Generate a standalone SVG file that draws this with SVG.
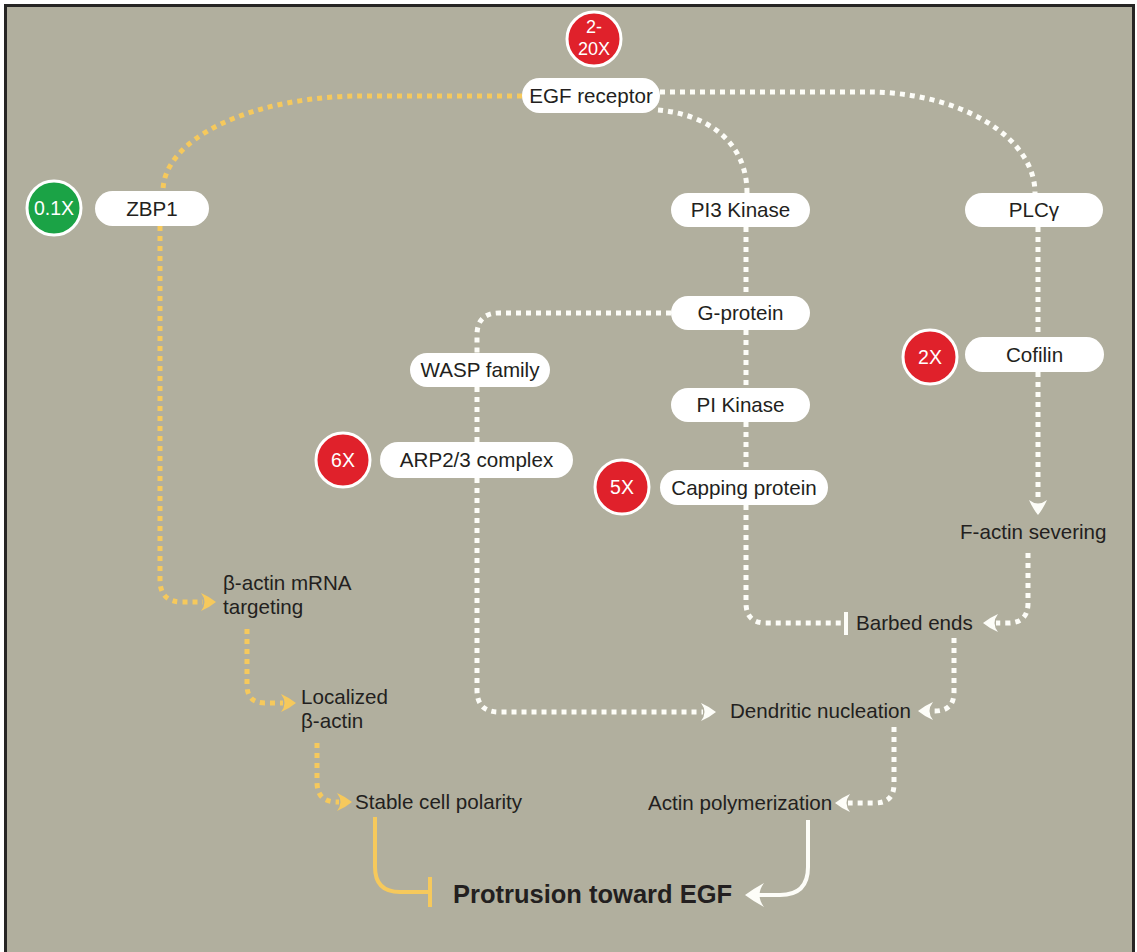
<svg xmlns="http://www.w3.org/2000/svg" xmlns:xlink="http://www.w3.org/1999/xlink" width="1137" height="952" viewBox="0 0 1137 952">
<defs>
<style>
.bg{fill:#b1af9e;stroke:#262524;stroke-width:3}
.pill{fill:#ffffff}
.t{font-family:"Liberation Sans",Arial,sans-serif;font-size:20.6px;fill:#231f20}
.tm{text-anchor:middle}
.big{font-size:25.5px;font-weight:bold}
.ct{font-family:"Liberation Sans",Arial,sans-serif;font-size:19.5px;fill:#ffffff;text-anchor:middle}
.cs{font-size:18px}
.red{fill:#e0212b;stroke:#ffffff;stroke-width:3}
.green{fill:#1ba346;stroke:#ffffff;stroke-width:3}
.dot{fill:none;stroke-width:5;stroke-dasharray:5 5}
.y{stroke:#f6c95c}
.w{stroke:#fdfdf8}
.sy{fill:none;stroke:#f6c95c;stroke-width:4}
.sw{fill:none;stroke:#fdfdf8;stroke-width:4}
</style>
<path id="chev" d="M-15,-9 Q-6,-5 0,0 Q-6,5 -15,9 Q-8,0 -15,-9 Z"/>
<path id="chevL" d="M-19,-12 Q-8,-6 0,0 Q-8,6 -19,12 Q-10,0 -19,-12 Z"/>
</defs>
<rect class="bg" x="5.5" y="5.5" width="1128" height="970"/>

<g id="connectors">
<!-- yellow -->
<path class="dot y" d="M522 96 L362 96 A199 95 0 0 0 163 191"/>
<path class="dot y" d="M160 226 L160 580 Q160 602 182 602 L203 602"/>
<use xlink:href="#chev" fill="#f6c95c" transform="translate(216,602)"/>
<path class="dot y" d="M247 629 L247 685 Q247 703 265 703 L283 703"/>
<use xlink:href="#chev" fill="#f6c95c" transform="translate(296,703)"/>
<path class="dot y" d="M317 743 L317 782 Q317 802 337 802 L339 802"/>
<use xlink:href="#chev" fill="#f6c95c" transform="translate(352,802)"/>
<path class="sy" d="M375 817 L375 867 Q375 892 400 892 L430 892"/>
<path class="sy" d="M430 877 L430 907"/>
<!-- white solid -->
<path class="sw" d="M808 820 L808 867 Q808 895 780 895 L752 895"/>
<use xlink:href="#chevL" fill="#fdfdf8" transform="translate(745,895) rotate(180)"/>
<!-- white dotted -->
<path class="dot w" d="M660 92 L868 92 A167 101 0 0 1 1035 193"/>
<path class="dot w" d="M658 110 C705 114 747 140 747 193"/>
<path class="dot w" d="M746 227 L746 296 M746 330 L746 388 M746 422 L746 470"/>
<path class="dot w" d="M746 505 L746 603 Q746 623 766 623 L844 623"/>
<path class="sw" d="M846 612 L846 635"/>
<path class="dot w" d="M671 313 L499 313 Q477 313 477 335 L477 353 M477 387 L477 442 M477 478 L477 690 Q477 712 499 712 L703 712"/>
<use xlink:href="#chev" fill="#fdfdf8" transform="translate(716,712)"/>
<path class="dot w" d="M1038 227 L1038 337 M1038 372 L1038 500"/>
<use xlink:href="#chev" fill="#fdfdf8" transform="translate(1038,515) rotate(90)"/>
<path class="dot w" d="M1028 553 L1028 603 Q1028 623 1008 623 L996 623"/>
<use xlink:href="#chev" fill="#fdfdf8" transform="translate(983,623) rotate(180)"/>
<path class="dot w" d="M954 638 L954 692 Q954 711 935 711 L931 711"/>
<use xlink:href="#chev" fill="#fdfdf8" transform="translate(918,711) rotate(180)"/>
<path class="dot w" d="M894 727 L894 784 Q894 803 875 803 L848 803"/>
<use xlink:href="#chev" fill="#fdfdf8" transform="translate(835,803) rotate(180)"/>
</g>

<g id="egf-receptor">
<rect class="pill" x="522" y="78" width="138" height="35" rx="17.5"/>
<text class="t tm" x="591" y="102.5">EGF receptor</text>
</g>
<g id="badge-egf">
<circle class="red" cx="594" cy="39" r="27"/>
<text class="ct cs" x="594" y="33">2-</text>
<text class="ct cs" x="594" y="55">20X</text>
</g>
<g id="zbp1">
<rect class="pill" x="95" y="191" width="114" height="35" rx="17.5"/>
<text class="t tm" x="152" y="215.5">ZBP1</text>
</g>
<g id="badge-zbp1">
<circle class="green" cx="54" cy="208" r="27"/>
<text class="ct" x="54" y="215">0.1X</text>
</g>
<g id="pi3-kinase">
<rect class="pill" x="671" y="193" width="139" height="34" rx="17"/>
<text class="t tm" x="740.5" y="217">PI3 Kinase</text>
</g>
<g id="plc-gamma">
<rect class="pill" x="965" y="193" width="138" height="34" rx="17"/>
<text class="t tm" x="1034" y="217">PLCγ</text>
</g>
<g id="g-protein">
<rect class="pill" x="671" y="296" width="139" height="34" rx="17"/>
<text class="t tm" x="740.5" y="320">G-protein</text>
</g>
<g id="wasp-family">
<rect class="pill" x="410" y="353" width="140" height="34" rx="17"/>
<text class="t tm" x="480" y="377">WASP family</text>
</g>
<g id="arp23">
<rect class="pill" x="380" y="442" width="193" height="36" rx="18"/>
<text class="t tm" x="476.5" y="467">ARP2/3 complex</text>
</g>
<g id="badge-arp">
<circle class="red" cx="343" cy="460" r="27"/>
<text class="ct" x="343" y="467">6X</text>
</g>
<g id="pi-kinase">
<rect class="pill" x="671" y="388" width="139" height="34" rx="17"/>
<text class="t tm" x="740.5" y="412">PI Kinase</text>
</g>
<g id="capping-protein">
<rect class="pill" x="660" y="470" width="168" height="35" rx="17.5"/>
<text class="t tm" x="744" y="494.5">Capping protein</text>
</g>
<g id="badge-capping">
<circle class="red" cx="622" cy="487" r="27"/>
<text class="ct" x="622" y="494">5X</text>
</g>
<g id="cofilin">
<rect class="pill" x="965" y="337" width="139" height="35" rx="17.5"/>
<text class="t tm" x="1034.5" y="361.5">Cofilin</text>
</g>
<g id="badge-cofilin">
<circle class="red" cx="930" cy="357" r="27"/>
<text class="ct" x="930" y="364">2X</text>
</g>
<g id="f-actin-severing"><text class="t" x="960" y="539">F-actin severing</text></g>
<g id="barbed-ends"><text class="t" x="856" y="630">Barbed ends</text></g>
<g id="dendritic-nucleation"><text class="t" x="730" y="718">Dendritic nucleation</text></g>
<g id="actin-polymerization"><text class="t" x="648" y="810">Actin polymerization</text></g>
<g id="beta-actin-mrna"><text class="t" x="223" y="590">β-actin mRNA</text><text class="t" x="223" y="614">targeting</text></g>
<g id="localized-beta-actin"><text class="t" x="301" y="704">Localized</text><text class="t" x="301" y="728">β-actin</text></g>
<g id="stable-cell-polarity"><text class="t" x="355" y="809">Stable cell polarity</text></g>
<g id="protrusion"><text class="t big" x="453" y="903">Protrusion toward EGF</text></g>
</svg>
